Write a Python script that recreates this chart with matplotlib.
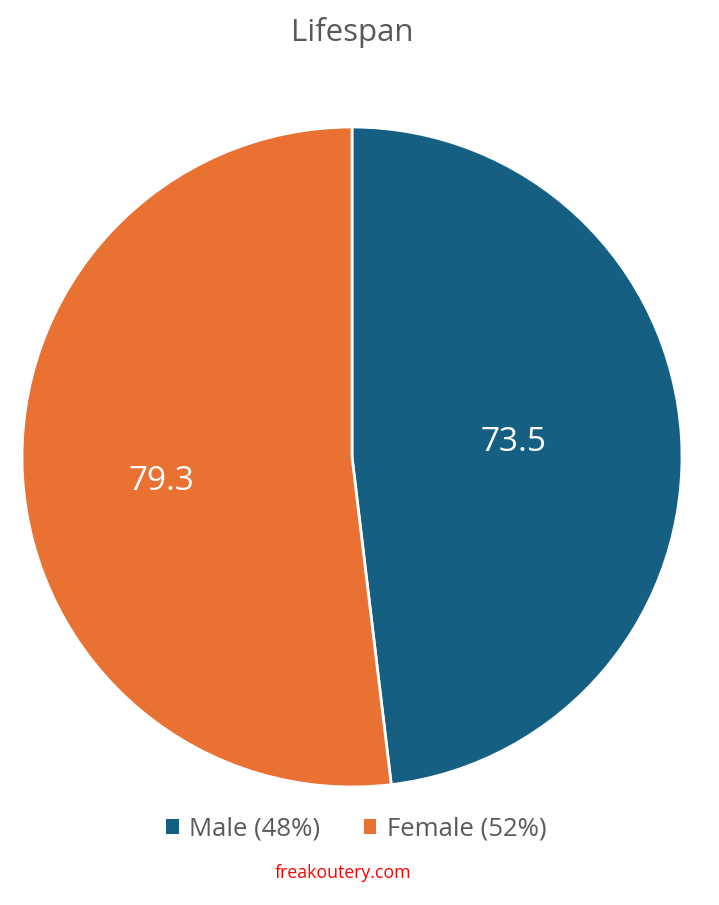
import matplotlib
matplotlib.use("Agg")
import matplotlib.pyplot as plt
from matplotlib.patches import Patch
import numpy as np

categories = ["Male", "Female"]
values = [73.5, 79.3]
colors = ["#156082", "#E97132"]
label_dist = [0.49, 0.58]

plt.rcParams['font.family'] = ['Open Sans', 'DejaVu Sans']

fig = plt.figure(figsize=(7.19, 9.05), dpi=100)
ax = fig.add_axes([22/719, (905-787)/905, 660/719, 660/905])
wedges, _ = ax.pie(values, colors=colors, startangle=90, counterclock=False,
                   wedgeprops=dict(edgecolor="white", linewidth=2))
ax.set_aspect("equal")
ax.set_xlim(-1, 1)
ax.set_ylim(-1, 1)
ax.axis("off")

offsets = [0.015, -0.04]
for w, v, d, o in zip(wedges, values, label_dist, offsets):
    mid = np.deg2rad((w.theta1 + w.theta2) / 2)
    ax.text(d * np.cos(mid), d * np.sin(mid) + o, f"{v}",
            ha="center", va="center", color="white", fontsize=24)

fig.text(352/719, 1 - 32/905, "Lifespan", ha="center", va="center", fontsize=22.5, color="#595959")

total = sum(values)
handles = [Patch(facecolor=c, edgecolor="none") for c in colors]
labels = [f"{c} ({round(v/total*100)}%)" for c, v in zip(categories, values)]
fig.legend(handles, labels, loc="center", bbox_to_anchor=(356/719, 1 - 829/905),
           ncol=2, frameon=False, fontsize=18.5, labelcolor="#595959",
           handlelength=0.5, handleheight=0.5, handletextpad=0.4, columnspacing=1.7)

fig.text(343/719, 1 - 873/905, "freakoutery.com", ha="center", va="center", fontsize=12.8, color="red")

fig.savefig("out.png", dpi=100)
